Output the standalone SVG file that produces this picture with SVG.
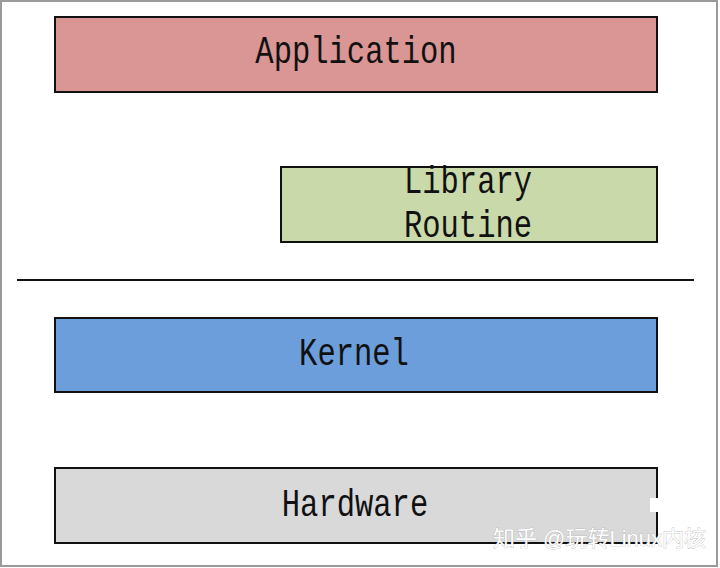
<svg xmlns="http://www.w3.org/2000/svg" width="720" height="568" viewBox="0 0 720 568">
<style>
.box{stroke:#111;stroke-width:2}
.lbl{font-family:"Liberation Mono",monospace;font-size:30.5px;fill:#111;text-anchor:middle}
.wm{font-family:"Liberation Sans","Noto Sans CJK SC",sans-serif;font-size:22px;fill:#fff;stroke:#aaa;stroke-width:0.6;paint-order:stroke}
</style>
<rect x="0" y="0" width="720" height="568" fill="#fff"/>
<rect x="1" y="1" width="716" height="565" fill="none" stroke="#9a9a9a" stroke-width="2"/>
<g id="application">
<rect class="box" x="55" y="17" width="602" height="75" fill="#D99694"/>
<text class="lbl" transform="translate(356,63) scale(1,1.25)">Application</text>
</g>
<g id="library">
<rect class="box" x="281" y="167" width="376" height="75" fill="#CAD9A9"/>
<text class="lbl" transform="translate(468,193) scale(1,1.25)">Library</text>
<text class="lbl" transform="translate(468,237) scale(1,1.25)">Routine</text>
</g>
<g id="connectors">
<line x1="17" y1="280" x2="694" y2="280" stroke="#111" stroke-width="2"/>
</g>
<g id="kernel">
<rect class="box" x="55" y="318" width="602" height="74" fill="#6C9EDB"/>
<text class="lbl" transform="translate(354,365) scale(1,1.25)">Kernel</text>
</g>
<g id="hardware">
<rect class="box" x="55" y="468" width="602" height="75" fill="#D9D9D9"/>
<text class="lbl" transform="translate(355,516) scale(1,1.25)">Hardware</text>
</g>
<rect x="650" y="498" width="10" height="14" fill="#fff"/>
<text class="wm" x="493" y="546">知乎 @玩转Linux内核</text>
</svg>
